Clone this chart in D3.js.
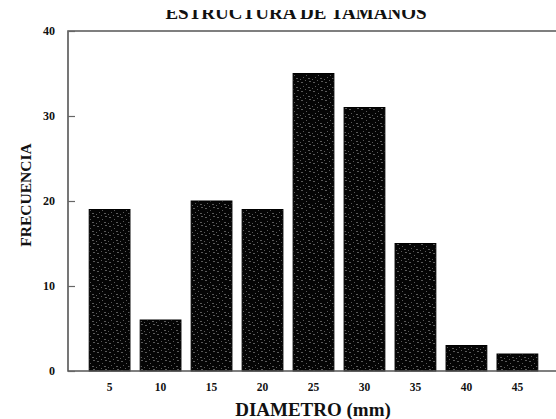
<!DOCTYPE html>
<html>
<head>
<meta charset="utf-8">
<script src="https://cdn.jsdelivr.net/npm/d3@7"></script>
<style>
  html, body { margin: 0; padding: 0; background: #fff; }
  svg { display: block; }
  text { font-family: "Liberation Serif", "Times New Roman", serif; font-weight: bold; fill: #111; }
</style>
</head>
<body>
<svg id="chart" width="556" height="419"></svg>
<script>
// Size-class histogram: frequency per diameter class (mm)
const categories = ["5", "10", "15", "20", "25", "30", "35", "40", "45"];
const frequencies = [19, 6, 20, 19, 35, 31, 15, 3, 2];
const yTicks = [0, 10, 20, 30, 40];

const svg = d3.select("#chart");
const plotLeft = 68, plotRight = 557, plotTop = 31, plotBottom = 371;

const x = d3.scaleBand()
  .domain(categories)
  .range([79, 548])
  .paddingInner(0.2)
  .paddingOuter(0.2);

const y = d3.scaleLinear().domain([0, 40]).range([plotBottom, plotTop]);

const defs = svg.append("defs");

// speckled print texture for the bars
const pat = defs.append("pattern")
  .attr("id", "speckle")
  .attr("patternUnits", "userSpaceOnUse")
  .attr("width", 12).attr("height", 9);
pat.append("rect").attr("width", 12).attr("height", 9).attr("fill", "#050505");
[[1,1,2],[6,3,1],[9,0,2],[3,5,1],[8,6,2],[0,7,1],[5,8,1]].forEach(([px, py, w]) => {
  pat.append("rect").attr("x", px).attr("y", py).attr("width", w).attr("height", 1)
    .attr("fill", "#5a5a5a");
});

// the page edge trims the top of the title
defs.append("clipPath").attr("id", "titleClip")
  .append("rect").attr("x", 0).attr("y", 10).attr("width", 556).attr("height", 20);

// bars
svg.append("g").selectAll("rect")
  .data(frequencies)
  .join("rect")
  .attr("x", (d, i) => x(categories[i]))
  .attr("y", d => y(d))
  .attr("width", x.bandwidth())
  .attr("height", d => y(0) - y(d))
  .attr("fill", "url(#speckle)")
  .attr("stroke", "#000")
  .attr("stroke-width", 1);

// frame
svg.append("path")
  .attr("d", `M${plotRight},${plotTop}H${plotLeft}V${plotBottom}H${plotRight}`)
  .attr("fill", "none")
  .attr("stroke", "#555")
  .attr("stroke-width", 1.6);

// y axis with inward ticks
const yAxis = svg.append("g")
  .attr("transform", `translate(${plotLeft},0)`)
  .call(d3.axisRight(y).tickValues(yTicks).tickSize(7).tickFormat(""));
yAxis.select(".domain").remove();
yAxis.selectAll("line").attr("stroke", "#666").attr("stroke-width", 1.2);

svg.append("g").selectAll("text")
  .data(yTicks)
  .join("text")
  .attr("x", 55)
  .attr("y", d => y(d) + 4)
  .attr("text-anchor", "end")
  .attr("font-size", 12)
  .text(d => d);

// x axis labels
const xAxis = svg.append("g")
  .attr("transform", `translate(0,${plotBottom})`)
  .call(d3.axisBottom(x).tickSize(0).tickPadding(12));
xAxis.select(".domain").remove();
xAxis.selectAll("text")
  .attr("font-size", 11.5)
  .style("font-family", "'Liberation Serif', serif")
  .style("font-weight", "bold")
  .attr("fill", "#111");

// titles
svg.append("text")
  .attr("x", 296).attr("y", 19)
  .attr("text-anchor", "middle")
  .attr("font-size", 19)
  .attr("clip-path", "url(#titleClip)")
  .text("ESTRUCTURA DE TAMAÑOS");

svg.append("text")
  .attr("x", 313).attr("y", 416)
  .attr("text-anchor", "middle")
  .attr("font-size", 19)
  .text("DIAMETRO (mm)");

svg.append("text")
  .attr("transform", "translate(31,195) rotate(-90)")
  .attr("text-anchor", "middle")
  .attr("font-size", 15.5)
  .text("FRECUENCIA");
</script>
</body>
</html>
